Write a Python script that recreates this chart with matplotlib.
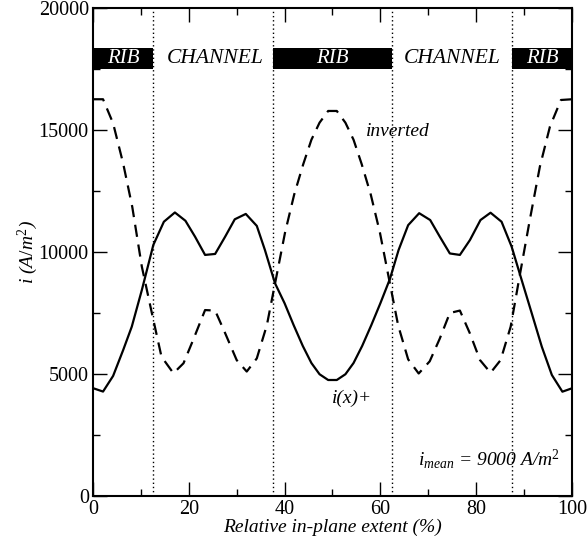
import numpy as np
import matplotlib
matplotlib.use("Agg")
import matplotlib.pyplot as plt
from matplotlib.ticker import MultipleLocator

plt.rcParams['font.family'] = ['Liberation Serif', 'DejaVu Serif']
plt.rcParams['mathtext.fontset'] = 'custom'
plt.rcParams['mathtext.rm'] = 'Liberation Serif'
plt.rcParams['mathtext.it'] = 'Liberation Serif:italic'

# current density i(x)+ (solid)
x_plus = [0, 2.1, 4.2, 6.3, 8.1, 10.2, 12.6, 14.8, 17.1, 19.3, 21.3, 23.4, 25.5,
          27.6, 29.6, 31.9, 34.2, 35.9, 38.0, 40.0, 41.9, 43.8, 45.6, 47.3, 49.1,
          50.9, 52.7, 54.4, 56.2, 58.1, 60.0, 62.0, 63.8, 65.8, 68.1, 70.4, 72.4,
          74.5, 76.6, 78.7, 80.9, 83.0, 85.3, 87.4, 89.5, 91.6, 93.7, 95.8, 98.0, 100]
i_plus = [4420, 4280, 4920, 5980, 6940, 8440, 10290, 11240, 11620, 11280, 10630, 9880, 9920,
          10630, 11340, 11560, 11070, 10080, 8720, 7900, 7000, 6150, 5450, 4990, 4754,
          4754, 4990, 5450, 6150, 7000, 7900, 8900, 10080, 11100, 11590, 11310, 10630,
          9940, 9880, 10490, 11310, 11610, 11240, 10220, 8850, 7490, 6120, 4960, 4275, 4414]

# inverted case (dashed)
x_inv = [0, 2.1, 4.2, 6.3, 8.2, 10.2, 12.3, 14.3, 16.8, 18.9, 20.9, 23.4, 25.5,
         27.6, 30.0, 32.1, 34.2, 36.3, 38.2, 40.1, 42.0, 43.9, 45.6, 47.3, 49.1,
         50.9, 52.7, 54.4, 56.1, 58.0, 59.9, 61.8, 63.7, 65.8, 68.0, 70.3, 72.4,
         74.5, 76.6, 78.7, 80.8, 83.0, 85.1, 87.2, 89.2, 91.2, 93.3, 95.4, 97.7, 100]
i_inv = [16260, 16260, 15275, 13630, 11850, 9400, 7490, 5710, 5030, 5440, 6390, 7620, 7600,
         6670, 5570, 5100, 5640, 7000, 8900, 10800, 12350, 13600, 14600, 15300, 15780,
         15780, 15300, 14600, 13600, 12350, 10800, 8900, 7000, 5600, 5020, 5520, 6450,
         7500, 7600, 6660, 5570, 5050, 5570, 6940, 9150, 11320, 13500, 15140, 16230, 16260]

boundaries = [12.5, 37.5, 62.5, 87.5]
rib_left = [0, 37.5, 87.5]
rib_width = [12.5, 25, 12.5]
channel_centers = [25.5, 75]

fig = plt.figure(figsize=(5.87, 5.48), dpi=100)
ax = fig.add_axes([0.1584, 0.0949, 0.816, 0.8905])

for b in boundaries:
    ax.axvline(b, color='black', linestyle=(0, (1, 2)), linewidth=1.0, zorder=1)

ax.barh(17925, rib_width, left=rib_left, height=850, color='black', zorder=2)
for l, w in zip(rib_left, rib_width):
    ax.text(l + w / 2, 17925, 'RIB', color='white', style='italic', fontsize=15,
            ha='center', va='center', zorder=3)
for c in channel_centers:
    ax.text(c, 17925, 'CHANNEL', color='black', style='italic', fontsize=15.5,
            ha='center', va='center', zorder=3)

ax.plot(x_plus, i_plus, color='black', linewidth=1.6, zorder=4)
ax.plot(x_inv, i_inv, color='black', linewidth=1.6, linestyle=(0, (5.5, 3.5)), zorder=4)

ax.text(57, 14950, 'inverted', style='italic', fontsize=14, ha='left', va='center')
ax.text(54, 4000, 'i(x)+', style='italic', fontsize=14, ha='center', va='center')
ax.text(97.5, 1500, r'$i_{mean}$ = 9000 A/m$^2$', style='italic', fontsize=14,
        ha='right', va='center')

ax.set_xlim(0, 100)
ax.set_ylim(0, 20000)
ax.xaxis.set_major_locator(MultipleLocator(20))
ax.xaxis.set_minor_locator(MultipleLocator(10))
ax.yaxis.set_major_locator(MultipleLocator(5000))
ax.yaxis.set_minor_locator(MultipleLocator(2500))
ax.tick_params(which='both', direction='in', top=True, right=True, labelsize=14.5, width=1.0)
ax.tick_params(which='major', length=10, pad=3)
ax.tick_params(which='minor', length=5)
for s in ax.spines.values():
    s.set_linewidth(1.5)

ax.set_xlabel('Relative in-plane extent (%)', style='italic', fontsize=14, labelpad=0)
ax.set_ylabel(r'$i$ ($A/m^2$)', style='italic', fontsize=14, labelpad=-1)

fig.savefig('out.png', dpi=100)
